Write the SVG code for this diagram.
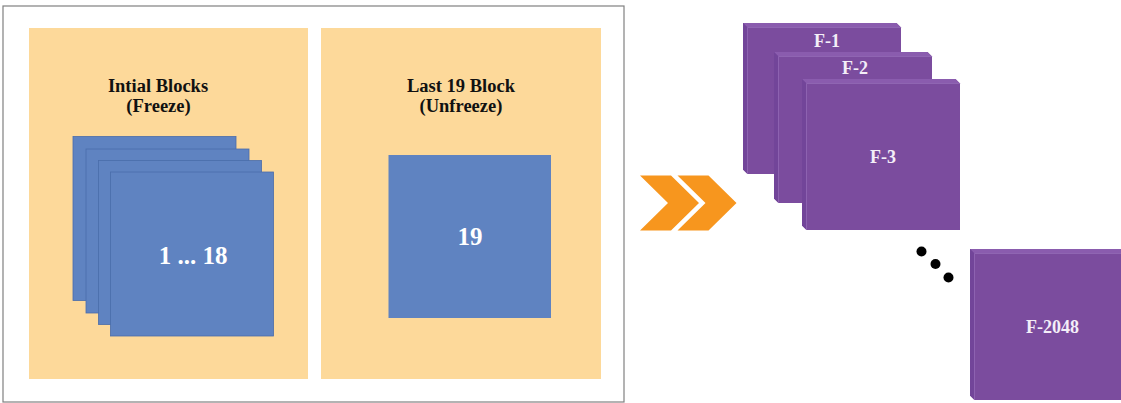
<svg xmlns="http://www.w3.org/2000/svg" xmlns:xlink="http://www.w3.org/1999/xlink" width="1121" height="403" viewBox="0 0 1121 403">
  <style>
    .panel { fill: #FDD99A; }
    .blk { fill: #5F83C1; stroke: #4A6DAA; stroke-width: 0.8; }
    .title { font-family: "Liberation Serif", "Times New Roman", serif; font-weight: bold; font-size: 18.5px; fill: #111111; text-anchor: middle; }
    .num { font-family: "Liberation Serif", "Times New Roman", serif; font-weight: bold; font-size: 25px; fill: #FFFFFF; text-anchor: middle; }
    .flab { font-family: "Liberation Serif", "Times New Roman", serif; font-weight: bold; font-size: 18px; fill: #F4EEF8; text-anchor: middle; }
    .chev { fill: #F7961E; }
    .dot { fill: #000000; }
  </style>
  <defs>
    <g id="cube">
      <path d="M0,0 H153.5 L158,4.5 V151 H4.5 L0,146.5 Z" fill="#7B4C9E"/>
      <path d="M0,0 H153.5 L158,4.5 H4.5 Z" fill="#8A5CAE"/>
      <path d="M0,0 L4.5,4.5 V151 L0,146.5 Z" fill="#724599"/>
      <path d="M4.5,151 V4.5 H158" fill="none" stroke="#9369B5" stroke-width="0.8"/>
    </g>
  </defs>

  <rect x="0" y="0" width="1121" height="403" fill="#FFFFFF"/>

  <g id="frame">
    <rect x="3" y="6" width="621" height="396" fill="#FFFFFF" stroke="#808080" stroke-width="1.2"/>
  </g>

  <g id="panel-initial">
    <rect class="panel" x="29" y="28" width="279" height="351"/>
    <text class="title" x="158" y="91.5">Intial Blocks</text>
    <text class="title" x="158.5" y="112">(Freeze)</text>
  </g>

  <g id="blocks-1-18">
    <rect class="blk" x="73" y="136.5" width="163" height="164"/>
    <rect class="blk" x="86" y="149" width="163" height="164"/>
    <rect class="blk" x="98.5" y="160.5" width="163" height="164"/>
    <rect class="blk" x="110.5" y="172" width="163" height="164" stroke="#C9A574"/>
    <text class="num" x="193" y="263.5">1 ... 18</text>
  </g>

  <g id="panel-last">
    <rect class="panel" x="321" y="28" width="280" height="351"/>
    <text class="title" x="461" y="91.5">Last 19 Block</text>
    <text class="title" x="461" y="112">(Unfreeze)</text>
  </g>

  <g id="block-19">
    <rect x="388.5" y="155" width="162.5" height="163" fill="#5F83C1"/>
    <text class="num" x="470" y="245">19</text>
  </g>

  <g id="connectors">
    <path class="chev" d="M640,175.5 H671 L699,203 L671,230.5 H640 L668,203 Z"/>
    <path class="chev" d="M677.5,175.5 H708.5 L736.5,203 L708.5,230.5 H677.5 L705.5,203 Z"/>
  </g>

  <g id="F-1">
    <use xlink:href="#cube" x="743" y="23"/>
    <text class="flab" x="827" y="46.5">F-1</text>
  </g>
  <g id="F-2">
    <use xlink:href="#cube" x="774" y="52"/>
    <text class="flab" x="855" y="74">F-2</text>
  </g>
  <g id="F-3">
    <use xlink:href="#cube" x="802" y="79"/>
    <text class="flab" x="883" y="163">F-3</text>
  </g>

  <g id="ellipsis">
    <circle class="dot" cx="921.5" cy="251.5" r="5"/>
    <circle class="dot" cx="935.5" cy="264" r="5"/>
    <circle class="dot" cx="948.5" cy="277.5" r="5"/>
  </g>

  <g id="F-2048">
    <use xlink:href="#cube" x="970" y="249"/>
    <text class="flab" x="1052.5" y="332.5">F-2048</text>
  </g>
</svg>
